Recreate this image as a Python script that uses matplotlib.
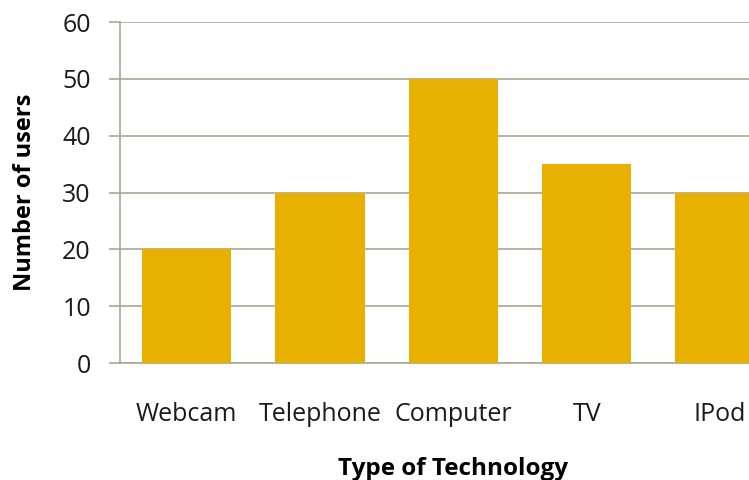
import matplotlib.pyplot as plt

# data
categories = ["Webcam", "Telephone", "Computer", "TV", "IPod"]
users = [20, 30, 50, 35, 30]

grid_col = "#aaa793"
bar_col = "#e8b000"

plt.rcParams['font.family'] = ['Open Sans', 'DejaVu Sans']

fig = plt.figure(figsize=(7.49, 4.8), dpi=100)
ax = fig.add_axes([0.1602, 0.2437, 0.8901, 0.7104])

x = range(len(categories))
ax.bar(x, users, width=0.67, color=bar_col, zorder=3)

ax.set_xlim(-0.5, 4.5)
ax.set_ylim(0, 60)
ax.set_yticks(range(0, 61, 10))
ax.set_xticks(list(x))
ax.set_xticklabels(categories)

ax.grid(axis='y', color=grid_col, linewidth=1.2, zorder=0)
for s in ['top', 'right']:
    ax.spines[s].set_visible(False)
for s in ['left', 'bottom']:
    ax.spines[s].set_color(grid_col)
    ax.spines[s].set_linewidth(1.2)

ax.tick_params(axis='y', length=8, width=1.2, color=grid_col, pad=13,
               labelsize=18, labelcolor='#1a1a1a')
ax.tick_params(axis='x', length=0, pad=28, labelsize=18, labelcolor='#1a1a1a')

ax.set_ylabel("Number of users", fontsize=17, fontweight='bold', labelpad=18)
ax.set_xlabel("Type of Technology", fontsize=17.5, fontweight='bold', labelpad=22)

fig.savefig("out.png", dpi=100)
